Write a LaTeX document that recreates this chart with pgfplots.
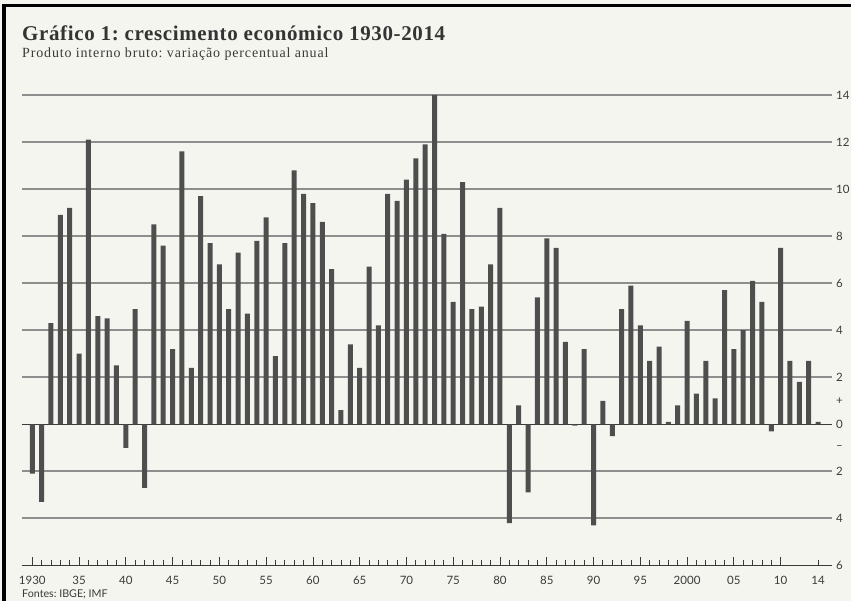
\documentclass[border=0pt]{standalone}
\usepackage{fontspec}
\setmainfont{Liberation Serif}
\newfontfamily\titlefont[LetterSpace=3]{Liberation Serif}
\newfontfamily\subfont[LetterSpace=6]{Liberation Serif}
\newfontfamily\lato{Lato}
\usepackage{pgfplots}
\pgfplotsset{compat=1.18}
\definecolor{bgcol}{HTML}{F5F5EF}
\definecolor{barcol}{HTML}{4E4E4E}
\definecolor{gridcol}{HTML}{8E8E8E}
\definecolor{txtcol}{HTML}{3A3A3A}
\frenchspacing
\begin{document}
\begin{tikzpicture}[x=1pt,y=1pt]
\useasboundingbox (0,0) rectangle (851,601);
\fill[bgcol] (0,0) rectangle (851,601);
\fill[black] (1.5,0) rectangle (5.5,597);
\fill[black] (1.5,593.5) rectangle (851,597);
\node[anchor=base west,inner sep=0pt,text=txtcol!90!black,font=\titlefont\fontsize{21}{25}\selectfont\bfseries] at (22,560) {Gráfico 1: crescimento económico 1930-2014};
\node[anchor=base west,inner sep=0pt,text=txtcol,font=\subfont\fontsize{14}{17}\selectfont] at (22,543) {Produto interno bruto: variação percentual anual};
\node[anchor=base west,inner sep=0pt,text=txtcol,font=\lato\fontsize{10.7}{12}\selectfont] at (22,3) {Fontes: IBGE; IMF};
\begin{axis}[
  at={(21.7pt,35.6pt)}, anchor=south west,
  scale only axis, width=810pt, height=470.4pt,
  xmin=1928.87, xmax=2015.46, ymin=-6, ymax=14,
  axis line style={draw=none},
  clip=false,
  ytick={-4,-2,2,4,6,8,10,12,14},
  yticklabels={4,2,2,4,6,8,10,12,14},
  extra y ticks={-6,-1,0,1},
  extra y tick labels={6,\textendash,0,+},
  extra y tick style={grid=none},
  ymajorgrids,
  major grid style={gridcol, line width=1.8pt},
  yticklabel pos=right,
  ytick style={draw=none},
  yticklabel style={anchor=west, inner sep=0pt, xshift=4.3pt, text=txtcol, font=\lato\fontsize{11.5}{13}\selectfont},
  /pgf/number format/assume math mode=true,
  xtick={1930,1935,...,2010},
  xticklabels={1930,35,40,45,50,55,60,65,70,75,80,85,90,95,2000,05,10},
  extra x ticks={2014},
  extra x tick labels={14},
  extra x tick style={major tick length=5pt},
  minor x tick num=4,
  xtick pos=bottom,
  tick align=inside,
  major tick length=8pt,
  minor tick length=5pt,
  xtick style={draw=txtcol, line width=0.8pt},
  xticklabel style={anchor=base, inner sep=0pt, yshift=-19.6pt, text=txtcol, font=\lato\fontsize{11.5}{13}\selectfont},
]
\draw[txtcol, line width=1.2pt] (axis cs:1928.87,0) -- (axis cs:2015.46,0);
\draw[txtcol, line width=0.9pt] (axis cs:1928.87,-6) -- (axis cs:2015.46,-6);
\addplot[ybar, bar width=5pt, fill=barcol, draw=none] coordinates {
(1930,-2.1) (1931,-3.3) (1932,4.3) (1933,8.9) (1934,9.2) (1935,3.0) (1936,12.1) (1937,4.6) (1938,4.5) (1939,2.5)
(1940,-1.0) (1941,4.9) (1942,-2.7) (1943,8.5) (1944,7.6) (1945,3.2) (1946,11.6) (1947,2.4) (1948,9.7) (1949,7.7)
(1950,6.8) (1951,4.9) (1952,7.3) (1953,4.7) (1954,7.8) (1955,8.8) (1956,2.9) (1957,7.7) (1958,10.8) (1959,9.8)
(1960,9.4) (1961,8.6) (1962,6.6) (1963,0.6) (1964,3.4) (1965,2.4) (1966,6.7) (1967,4.2) (1968,9.8) (1969,9.5)
(1970,10.4) (1971,11.3) (1972,11.9) (1973,14.0) (1974,8.1) (1975,5.2) (1976,10.3) (1977,4.9) (1978,5.0) (1979,6.8)
(1980,9.2) (1981,-4.2) (1982,0.8) (1983,-2.9) (1984,5.4) (1985,7.9) (1986,7.5) (1987,3.5) (1988,-0.06) (1989,3.2)
(1990,-4.3) (1991,1.0) (1992,-0.5) (1993,4.9) (1994,5.9) (1995,4.2) (1996,2.7) (1997,3.3) (1998,0.1) (1999,0.8)
(2000,4.4) (2001,1.3) (2002,2.7) (2003,1.1) (2004,5.7) (2005,3.2) (2006,4.0) (2007,6.1) (2008,5.2) (2009,-0.3)
(2010,7.5) (2011,2.7) (2012,1.8) (2013,2.7) (2014,0.1)
};
\end{axis}
\end{tikzpicture}
\end{document}
